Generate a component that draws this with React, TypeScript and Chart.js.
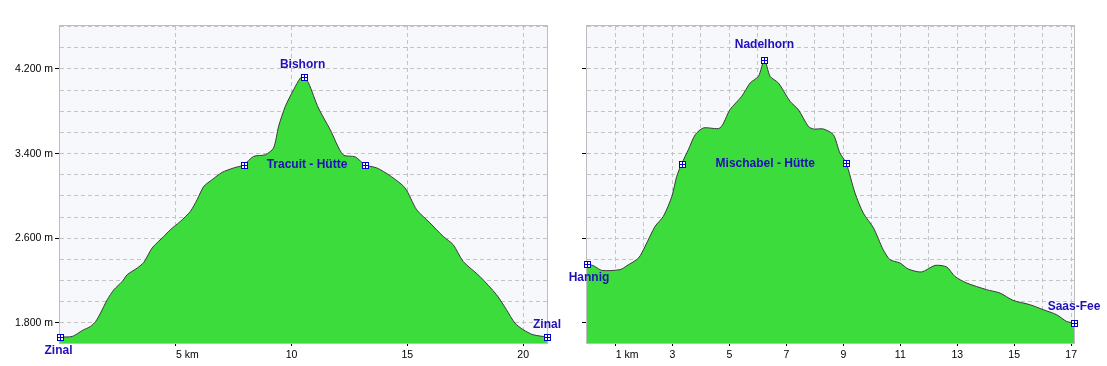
import React, { useEffect, useRef } from 'react';
import { Chart, registerables } from 'chart.js';

Chart.register(...registerables);

// ---------- data ----------
const leftKm = [0, 0.53, 0.97, 1.32, 1.54, 1.75, 2.04, 2.33, 2.69, 2.9, 3.34, 3.62, 3.98, 4.48, 4.77, 5.2, 5.63, 5.92, 6.21, 6.57, 7.0, 7.5, 7.93, 8.36, 8.87, 9.22, 9.44, 9.73, 10.09, 10.38, 10.52, 10.73, 11.16, 11.67, 12.22, 12.75, 13.18, 13.68, 14.25, 14.9, 15.4, 15.98, 16.55, 16.98, 17.41, 18.13, 18.85, 19.28, 19.64, 20.0, 20.43, 21.03];
const leftElev = [1668, 1673, 1730, 1768, 1815, 1894, 2020, 2115, 2193, 2256, 2320, 2373, 2509, 2618, 2682, 2760, 2855, 2965, 3091, 3154, 3223, 3265, 3293, 3374, 3390, 3453, 3658, 3847, 4005, 4115, 4125, 4068, 3831, 3626, 3390, 3369, 3293, 3265, 3192, 3076, 2871, 2745, 2618, 2540, 2382, 2240, 2067, 1926, 1800, 1737, 1689, 1668];

const rightKm = [0, 0.23, 0.52, 1.16, 1.4, 1.81, 2.04, 2.39, 2.68, 2.98, 3.15, 3.32, 3.56, 3.8, 4.09, 4.67, 5.02, 5.43, 5.73, 6.02, 6.23, 6.43, 6.72, 7.13, 7.42, 7.77, 7.95, 8.3, 8.65, 8.88, 9.1, 9.41, 9.7, 10.06, 10.4, 10.64, 10.99, 11.28, 11.75, 12.22, 12.63, 12.92, 13.33, 14.03, 14.5, 14.96, 15.55, 16.02, 16.49, 16.84, 17.1];
const rightElev = [2357, 2341, 2297, 2304, 2341, 2414, 2524, 2713, 2807, 2996, 3185, 3302, 3438, 3579, 3643, 3643, 3816, 3941, 4068, 4130, 4288, 4130, 4068, 3894, 3816, 3658, 3633, 3633, 3579, 3406, 3312, 3028, 2839, 2698, 2493, 2398, 2367, 2310, 2282, 2344, 2329, 2240, 2178, 2115, 2083, 2014, 1973, 1926, 1878, 1815, 1800];

const leftWaypointNames = ['Zinal', 'Tracuit - Hütte', 'Bishorn', 'Tracuit - Hütte', 'Zinal'];
const leftWaypointKm = [0, 7.93, 10.52, 13.18, 21.03];
const leftWaypointElev = [1668, 3293, 4125, 3293, 1668];

const rightWaypointNames = ['Hannig', 'Mischabel - Hütte', 'Nadelhorn', 'Mischabel - Hütte', 'Saas-Fee'];
const rightWaypointKm = [0, 3.32, 6.23, 9.1, 17.1];
const rightWaypointElev = [2357, 3302, 4288, 3312, 1800];

const yTickValues = [1800, 2000, 2200, 2400, 2600, 2800, 3000, 3200, 3400, 3600, 3800, 4000, 4200, 4400, 4600];
const yLabelValues = [1800, 2600, 3400, 4200];
const leftXTicks = [5, 10, 15, 20];
const rightXTicks = [1, 2, 3, 4, 5, 6, 7, 8, 9, 10, 11, 12, 13, 14, 15, 16, 17];
const rightXLabelValues = [1, 3, 5, 7, 9, 11, 13, 15, 17];

// ---------- styles ----------
const Y_MIN = 1611;
const Y_MAX = 4606;
const FONT = '"Liberation Sans", Arial, sans-serif';
const GRID = '#c4c4c4';
const FRAME = '#bdbdbd';
const PLOT_BG = '#f7f8fc';
const FILL = '#3cdc3c';
const LINE = '#3a3a3a';
const LABEL_BLUE = '#2010b8';
const MARK_BLUE = '#0000cc';

type Placement = { dx: number; dy: number; align: CanvasTextAlign } | null;

const leftPlacement: Placement[] = [
  { dx: -1.5, dy: 13.5, align: 'center' },
  { dx: 23, dy: 0, align: 'left' },
  { dx: -1, dy: -12.5, align: 'center' },
  null,
  { dx: 0, dy: -12.5, align: 'center' },
];
const rightPlacement: Placement[] = [
  { dx: 2, dy: 13.5, align: 'center' },
  { dx: 34, dy: 0, align: 'left' },
  { dx: 0, dy: -15, align: 'center' },
  null,
  { dx: 0, dy: -16, align: 'center' },
];

function fmtElev(v: number): string {
  const th = Math.floor(v / 1000);
  const rest = String(v % 1000).padStart(3, '0');
  return th + '.' + rest + ' m';
}

function drawMarker(ctx: CanvasRenderingContext2D, px: number, py: number) {
  const x = Math.round(px);
  const y = Math.round(py);
  ctx.fillStyle = MARK_BLUE;
  ctx.fillRect(x - 3, y - 3, 7, 7);
  ctx.fillStyle = '#ffffff';
  ctx.fillRect(x - 2, y - 2, 2, 2);
  ctx.fillRect(x + 1, y - 2, 2, 2);
  ctx.fillRect(x - 2, y + 1, 2, 2);
  ctx.fillRect(x + 1, y + 1, 2, 2);
}

interface Cfg {
  km: number[];
  elev: number[];
  wpNames: string[];
  wpKm: number[];
  wpElev: number[];
  placement: Placement[];
  xMax: number;
  xTicks: number[];
  xLabel: (v: number) => string;
  xTickMark: (v: number) => boolean;
  showYLabels: boolean;
  yWidth: number;
  rightPad: number;
}

function buildChart(canvas: HTMLCanvasElement, c: Cfg) {
  const plugin = {
    id: 'profileDeco',
    beforeDraw(chart: any) {
      const { ctx, chartArea: a } = chart;
      ctx.save();
      ctx.fillStyle = PLOT_BG;
      ctx.fillRect(a.left, a.top, a.right - a.left, a.bottom - a.top);
      ctx.restore();
    },
    afterDatasetsDraw(chart: any) {
      const { ctx, chartArea: a } = chart;
      const xs = chart.scales.x;
      const ys = chart.scales.y;
      ctx.save();
      ctx.strokeStyle = FRAME;
      ctx.lineWidth = 1;
      ctx.strokeRect(Math.round(a.left) - 0.5, Math.round(a.top) - 0.5, Math.round(a.right - a.left) + 1, Math.round(a.bottom - a.top) + 1);
      c.wpKm.forEach((k, i) => {
        const px = xs.getPixelForValue(k);
        const py = ys.getPixelForValue(c.wpElev[i]);
        drawMarker(ctx, px, py);
        const p = c.placement[i];
        if (p) {
          ctx.font = 'bold 12px ' + FONT;
          ctx.fillStyle = LABEL_BLUE;
          ctx.textAlign = p.align;
          ctx.textBaseline = 'middle';
          ctx.fillText(c.wpNames[i], px + p.dx, py + p.dy);
        }
      });
      ctx.restore();
    },
  };

  return new Chart(canvas, {
    type: 'line',
    data: {
      datasets: [
        {
          data: c.km.map((k, i) => ({ x: k, y: c.elev[i] })),
          borderColor: LINE,
          borderWidth: 1,
          backgroundColor: FILL,
          fill: 'start',
          pointRadius: 0,
          tension: 0.25,
        },
      ],
    },
    options: {
      responsive: false,
      animation: false,
      events: [],
      layout: { padding: { top: 26, right: c.rightPad, left: 0, bottom: 0 } },
      plugins: { legend: { display: false }, tooltip: { enabled: false } },
      scales: {
        x: {
          type: 'linear',
          min: 0,
          max: c.xMax,
          border: { display: false, dash: [4, 3] },
          grid: {
            color: GRID,
            lineWidth: 1,
            drawTicks: true,
            tickLength: 3,
            tickColor: (ctx: any) => (ctx.tick && c.xTickMark(ctx.tick.value) ? '#000000' : 'rgba(0,0,0,0)'),
          },
          afterBuildTicks: (s: any) => {
            s.ticks = c.xTicks.map((v) => ({ value: v }));
          },
          afterFit: (s: any) => {
            s.height = 23;
          },
          ticks: {
            autoSkip: false,
            maxRotation: 0,
            padding: 3,
            color: '#000000',
            font: { family: FONT, size: 10.5 },
            callback: (v: any) => c.xLabel(Number(v)),
          },
        },
        y: {
          type: 'linear',
          min: Y_MIN,
          max: Y_MAX,
          border: { display: false, dash: [4, 3] },
          grid: {
            color: GRID,
            lineWidth: 1,
            drawTicks: true,
            tickLength: 5,
            tickColor: (ctx: any) => (ctx.tick && yLabelValues.includes(ctx.tick.value) ? '#000000' : 'rgba(0,0,0,0)'),
          },
          afterBuildTicks: (s: any) => {
            s.ticks = yTickValues.map((v) => ({ value: v }));
          },
          afterFit: (s: any) => {
            s.width = c.yWidth;
          },
          ticks: {
            autoSkip: false,
            padding: 2,
            color: '#000000',
            font: { family: FONT, size: 10.5 },
            callback: (v: any) => (c.showYLabels && yLabelValues.includes(Number(v)) ? fmtElev(Number(v)) : ''),
          },
        },
      },
    } as any,
    plugins: [plugin],
  });
}

const pad = (s: string) => '        ' + s;

export default function App() {
  const leftRef = useRef<HTMLCanvasElement | null>(null);
  const rightRef = useRef<HTMLCanvasElement | null>(null);

  useEffect(() => {
    const left = buildChart(leftRef.current!, {
      km: leftKm,
      elev: leftElev,
      wpNames: leftWaypointNames,
      wpKm: leftWaypointKm,
      wpElev: leftWaypointElev,
      placement: leftPlacement,
      xMax: 21.03,
      xTicks: leftXTicks,
      xLabel: (v) => (v === leftXTicks[0] ? pad(v + ' km') : String(v)),
      xTickMark: () => true,
      showYLabels: true,
      yWidth: 60,
      rightPad: 20,
    });
    const right = buildChart(rightRef.current!, {
      km: rightKm,
      elev: rightElev,
      wpNames: rightWaypointNames,
      wpKm: rightWaypointKm,
      wpElev: rightWaypointElev,
      placement: rightPlacement,
      xMax: 17.1,
      xTicks: rightXTicks,
      xLabel: (v) => (v === rightXLabelValues[0] ? pad(v + ' km') : rightXLabelValues.includes(v) ? String(v) : ''),
      xTickMark: (v) => rightXLabelValues.includes(v),
      showYLabels: false,
      yWidth: 20,
      rightPad: 33,
    });
    return () => {
      left.destroy();
      right.destroy();
    };
  }, []);

  return (
    <div style={{ position: 'absolute', left: 0, top: 0, width: 1107, height: 366, background: '#ffffff' }}>
      <canvas ref={leftRef} width={567} height={366} style={{ position: 'absolute', left: 0, top: 0, width: 567, height: 366 }} />
      <canvas ref={rightRef} width={540} height={366} style={{ position: 'absolute', left: 567, top: 0, width: 540, height: 366 }} />
    </div>
  );
}
